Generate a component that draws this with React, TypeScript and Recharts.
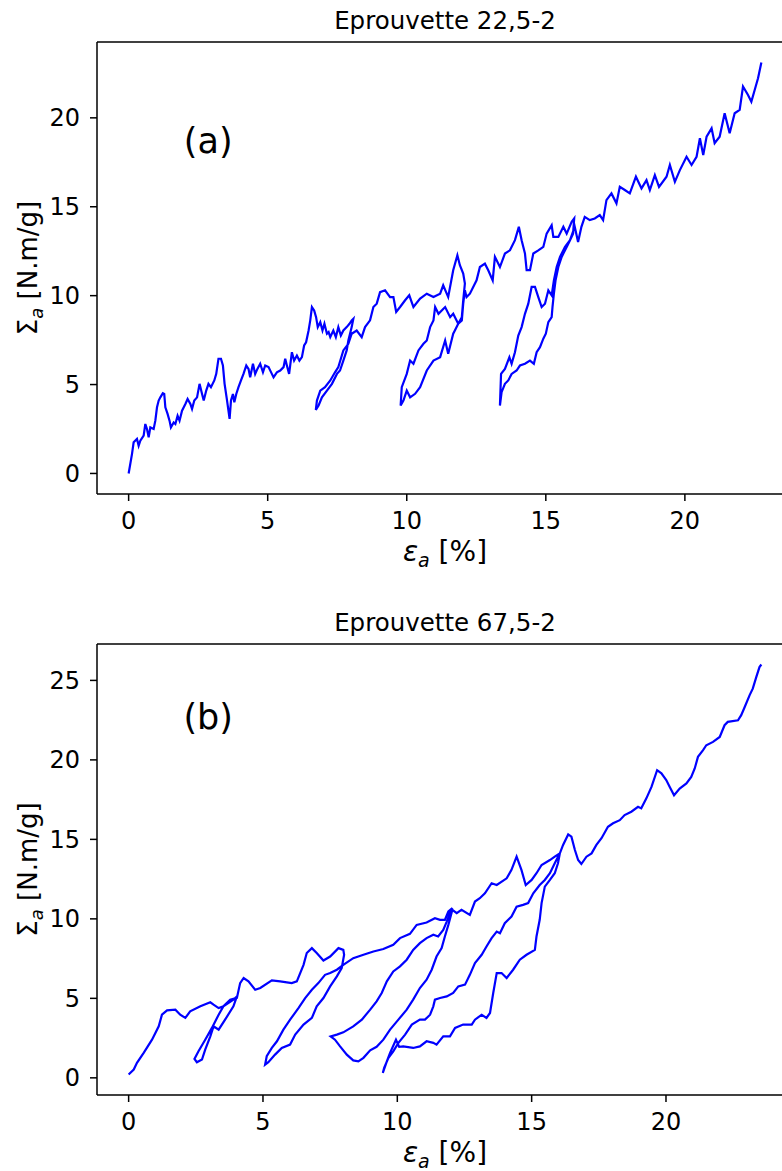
import { LineChart, Line, XAxis, YAxis, ReferenceDot } from 'recharts'

const FONT = '"DejaVu Sans", sans-serif'
const BLUE = '#0000ff'

const titleA = 'Eprouvette 22,5-2'
const titleB = 'Eprouvette 67,5-2'
const tagA = '(a)'
const tagB = '(b)'
const xTicks = [0, 5, 10, 15, 20]
const yTicksA = [0, 5, 10, 15, 20]
const yTicksB = [0, 5, 10, 15, 20, 25]

// specimen 22,5-2 : strain (%) and stress, in the order they were recorded
const strainA = [
  0, 0.12, 0.18, 0.3, 0.36, 0.42, 0.54, 0.6, 0.66, 0.72, 0.78, 0.9, 0.96, 1.02, 1.08, 1.14, 1.23, 1.28, 1.32, 1.4,
  1.47, 1.52, 1.62, 1.68, 1.76, 1.83, 1.92, 2.04, 2.12, 2.22, 2.28, 2.36, 2.46, 2.55, 2.64, 2.7, 2.79, 2.87, 2.96, 3.08,
  3.15, 3.23, 3.32, 3.39, 3.45, 3.53, 3.63, 3.68, 3.75, 3.8, 3.87, 3.95, 4.04, 4.13, 4.23, 4.31, 4.37, 4.47, 4.55, 4.63,
  4.73, 4.83, 4.91, 5.03, 5.15, 5.21, 5.33, 5.45, 5.57, 5.63, 5.69, 5.77, 5.87, 5.95, 6.05, 6.14, 6.23, 6.31, 6.38, 6.47,
  6.53, 6.59, 6.67, 6.74, 6.8, 6.89, 6.97, 7.04, 7.13, 7.19, 7.25, 7.36, 7.45, 7.54, 7.63, 7.72, 7.84, 7.94, 8.02, 8.08,
  8.02, 7.9, 7.84, 7.72, 7.6, 7.49, 7.31, 7.13, 6.95, 6.83, 6.73,
  6.77, 6.89, 7.06, 7.25, 7.42, 7.54, 7.72, 7.9, 8.02, 8.2, 8.38, 8.5, 8.68, 8.8, 8.92, 9.04, 9.22, 9.4, 9.52, 9.62,
  9.76, 9.94, 10.09, 10.24, 10.48, 10.72, 10.96, 11.2, 11.31, 11.49, 11.67, 11.82, 11.91, 12.03, 12.09,
  12.03, 11.98, 11.85, 11.73, 11.67, 11.49, 11.38, 11.2, 10.96, 10.72, 10.48, 10.3, 10.12, 10.0, 9.88, 9.78,
  9.82, 10.0, 10.12, 10.24, 10.42, 10.6, 10.72, 10.84, 10.96, 11.02, 11.14, 11.38, 11.56, 11.67, 11.85, 11.98, 12.03, 12.09,
  12.15, 12.27, 12.39, 12.51, 12.63, 12.81, 12.93, 13.09, 13.17, 13.35, 13.53, 13.71, 13.89, 14.03, 14.13, 14.25, 14.31,
  14.43, 14.55, 14.73, 14.91, 15.03, 15.21, 15.27, 15.45, 15.63, 15.75, 15.93, 16.02,
  15.98, 15.87, 15.75, 15.57, 15.45, 15.35, 15.29, 15.24, 15.21, 15.09, 15.0, 14.91, 14.79, 14.67, 14.57, 14.43, 14.25,
  14.07, 13.95, 13.77, 13.65, 13.53, 13.41, 13.35,
  13.39, 13.53, 13.69, 13.77, 13.89, 14.01, 14.13, 14.25, 14.37, 14.49, 14.61, 14.73, 14.85, 14.97, 15.09, 15.21, 15.29,
  15.39, 15.51, 15.69, 15.87, 16.04,
  16.16, 16.28, 16.4, 16.58, 16.76, 16.94, 17.06, 17.18, 17.36, 17.54, 17.66, 17.84, 18.02, 18.24, 18.44, 18.62, 18.74,
  18.92, 19.07, 19.34, 19.46, 19.64, 19.82, 20.06, 20.24, 20.42, 20.54, 20.66, 20.78, 20.96, 21.07, 21.25, 21.43, 21.61,
  21.79, 21.97, 22.09, 22.27, 22.39, 22.51, 22.63, 22.75,
]
const stressA = [
  0, 1.09, 1.75, 1.94, 1.56, 1.84, 2.13, 2.78, 2.5, 2.03, 2.59, 2.5, 2.97, 3.72, 4.1, 4.28, 4.51, 4.47, 3.72, 3.35,
  2.97, 2.59, 2.87, 2.78, 3.25, 2.97, 3.53, 3.91, 4.19, 3.91, 3.63, 4.1, 4.28, 5.04, 4.47, 4.1, 4.66, 5.04, 4.85, 5.23,
  5.6, 6.45, 6.45, 6.07, 5.04, 4.19, 3.07, 4.1, 4.47, 4.0, 4.47, 4.85, 5.23, 5.6, 6.07, 5.88, 5.41, 6.17, 5.6, 5.88,
  6.17, 5.69, 6.07, 5.98, 5.6, 5.41, 5.69, 5.79, 5.98, 6.45, 6.07, 5.6, 6.82, 6.35, 6.63, 6.35, 6.54, 7.2, 7.38, 8.04,
  8.61, 9.36, 9.17, 8.79, 8.23, 8.51, 8.04, 8.42, 7.86, 7.95, 7.67, 8.04, 7.67, 8.23, 7.76, 8.04, 8.23, 8.42, 8.61, 8.7,
  8.23, 7.48, 6.92, 6.35, 5.79, 5.6, 5.04, 4.66, 4.28, 3.82, 3.57,
  4.1, 4.66, 4.85, 5.23, 5.69, 5.98, 6.92, 7.29, 7.86, 8.04, 7.67, 8.23, 8.61, 9.36, 9.55, 10.2, 10.3, 9.92, 9.92, 9.08,
  9.36, 9.74, 10.02, 9.36, 9.83, 10.11, 9.92, 10.11, 10.58, 9.92, 11.43, 12.27, 11.71, 11.24, 10.68,
  9.74, 8.79, 8.42, 8.04, 7.86, 6.73, 7.48, 6.54, 6.35, 5.79, 4.85, 4.48, 4.28, 4.66, 4.1, 3.82,
  4.85, 5.6, 6.35, 6.17, 6.92, 7.29, 7.48, 8.23, 8.61, 9.36, 8.98, 9.36, 8.79, 8.98, 8.42, 8.61, 9.55, 10.3,
  9.92, 10.11, 10.49, 10.86, 11.61, 11.8, 11.43, 10.86, 12.18, 11.61, 12.37, 12.55, 13.12, 13.87, 13.12, 12.37, 11.43,
  11.43, 12.37, 12.55, 12.74, 13.49, 13.96, 13.3, 13.3, 13.87, 13.49, 14.15, 14.34,
  13.49, 13.12, 12.74, 12.18, 11.61, 10.86, 10.11, 9.36, 8.79, 8.51, 7.86, 7.58, 7.1, 6.82, 6.17, 6.35, 6.17,
  6.07, 5.79, 5.6, 5.23, 5.04, 4.57, 3.82,
  5.6, 5.88, 6.54, 6.17, 6.82, 7.76, 8.23, 8.98, 9.55, 10.49, 10.49, 9.92, 9.36, 9.55, 10.3, 10.02, 10.86,
  11.61, 12.18, 12.74, 13.12, 13.87,
  13.02, 13.87, 14.43, 14.25, 14.34, 14.53, 14.25, 15.37, 15.75, 15.19, 16.12, 15.94, 15.75, 16.69, 16.03, 16.5, 15.94,
  16.78, 16.12, 16.69, 17.35, 16.4, 17.06, 17.81, 17.35, 17.81, 18.85, 17.91, 18.94, 19.41, 18.57, 18.94, 20.26, 19.13,
  20.26, 20.45, 21.76, 21.29, 20.91, 21.57, 22.23, 23.11,
]

// specimen 67,5-2
const strainB = [
  0, 0.19, 0.31, 0.56, 0.87, 1.12, 1.24, 1.43, 1.74, 1.92, 2.11, 2.29, 2.67, 3.04, 3.16, 3.35, 3.53, 3.9, 4.03,
  3.9, 3.59, 3.35, 3.16, 3.04, 2.85, 2.73, 2.54, 2.45,
  2.6, 2.85, 3.1, 3.35, 3.53, 3.78, 4.03,
  4.15, 4.28, 4.46, 4.71, 4.9, 5.33, 5.64, 6.07, 6.26, 6.51, 6.63, 6.82, 7.0, 7.25, 7.5, 7.81, 7.99, 8.02,
  7.93, 7.75, 7.5, 7.25, 7.0, 6.82, 6.51, 6.2, 6.01, 5.7, 5.45, 5.2, 5.08,
  5.14, 5.33, 5.52, 5.76, 6.01, 6.32, 6.57, 6.82, 7.06, 7.31, 7.5, 7.75, 7.99,
  8.36, 8.74, 9.11, 9.48, 9.85, 10.1, 10.47, 10.72, 11.09, 11.4, 11.59, 11.77, 11.9, 12.05,
  11.96, 11.84, 11.71, 11.52, 11.34, 11.09, 10.84, 10.59, 10.35, 10.1, 9.85, 9.61, 9.42, 9.23, 8.99, 8.68, 8.36, 7.99,
  7.75, 7.52,
  7.68, 7.87, 8.12, 8.36, 8.55, 8.74, 8.99, 9.23, 9.48, 9.73, 10.04, 10.35, 10.59, 10.84, 11.09, 11.28, 11.46, 11.65,
  11.77, 11.9, 12.05,
  12.21, 12.39, 12.7, 12.89, 13.07, 13.26, 13.51, 13.7, 14.07, 14.25, 14.44, 14.62, 14.78, 15.0, 15.18, 15.37, 15.68,
  15.86, 16.05,
  15.98, 15.86, 15.68, 15.49, 15.37, 15.3, 15.18, 15.12, 14.81, 14.56, 14.31, 14.07, 13.88, 13.7, 13.57, 13.45, 13.32,
  13.14, 12.89, 12.77, 12.45, 12.15, 11.96, 11.71, 11.46, 11.34, 11.09, 10.84, 10.59, 10.22, 10.07, 9.95, 9.73, 9.61, 9.46,
  9.51, 9.67, 9.85, 10.04, 10.29, 10.54, 10.84, 11.03, 11.22, 11.34, 11.4, 11.59, 11.84, 12.08, 12.27, 12.52, 12.7,
  12.89, 13.14, 13.32, 13.51, 13.7, 13.82, 14.0, 14.25, 14.44, 14.68, 14.87, 15.06, 15.3, 15.49, 15.68, 15.86, 16.05,
  16.17, 16.36, 16.48, 16.61, 16.73, 16.85, 17.04, 17.23, 17.41, 17.6, 17.84, 18.03, 18.28, 18.46, 18.71, 18.96, 19.08,
  19.27, 19.46, 19.67, 19.83, 20.01, 20.14, 20.3, 20.51, 20.76, 20.94, 21.07, 21.19, 21.38, 21.5, 21.75, 22.0, 22.18,
  22.3, 22.68, 22.8, 22.93, 23.11, 23.23, 23.36, 23.48, 23.55,
]
const stressB = [
  0.21, 0.52, 0.94, 1.57, 2.4, 3.24, 3.97, 4.24, 4.29, 3.97, 3.77, 4.18, 4.5, 4.75, 4.6, 4.39, 4.5, 4.92, 5.12,
  4.5, 3.66, 3.03, 3.24, 2.61, 1.78, 1.15, 0.98, 1.19,
  1.67, 2.4, 3.14, 3.97, 4.5, 4.92, 5.03,
  5.96, 6.28, 6.07, 5.54, 5.65, 6.13, 6.07, 5.96, 6.07, 7.11, 7.85, 8.16, 7.85, 7.38, 7.63, 8.16, 8.05, 7.74,
  6.9, 6.38, 5.75, 5.02, 4.5, 3.77, 3.35, 2.72, 2.09, 1.88, 1.46, 0.98, 0.83,
  1.36, 1.88, 2.3, 3.03, 3.66, 4.39, 5.02, 5.54, 5.96, 6.48, 6.59, 6.8, 7.11,
  7.53, 7.74, 7.95, 8.1, 8.37, 8.79, 9.06, 9.62, 9.77, 10.04, 9.94, 9.94, 10.46, 10.67,
  10.36, 9.83, 9.31, 8.89, 9.0, 8.79, 8.47, 8.05, 7.43, 7.01, 6.69, 6.07, 5.34, 4.81, 4.29, 3.66, 3.24, 2.86,
  2.72, 2.61,
  2.4, 1.98, 1.46, 1.1, 1.04, 1.26, 1.73, 1.95, 2.4, 3.03, 3.66, 4.29, 4.92, 5.65, 6.17, 6.8, 7.63, 8.16,
  8.89, 9.62, 10.57,
  10.36, 10.57, 10.25, 11.09, 11.3, 11.61, 12.24, 12.13, 12.55, 13.08, 13.91, 13.08, 12.13, 12.45, 12.87, 13.39, 13.7,
  13.91, 14.12,
  13.5, 12.87, 12.45, 12.03, 10.99, 9.94, 8.89, 8.05, 7.74, 7.43, 6.8, 6.28, 6.59, 6.59, 5.34, 4.08, 3.77,
  3.97, 3.66, 3.35, 3.35, 3.14, 2.61, 2.61, 2.09, 2.2, 2.3, 1.98, 1.88, 1.98, 1.95, 2.4, 1.57, 1.04, 0.31,
  0.63, 1.26, 1.67, 2.2, 2.72, 3.35, 3.66, 3.66, 3.97, 4.5, 4.92, 5.02, 5.12, 5.34, 5.75, 5.86, 6.48,
  7.22, 7.74, 8.26, 8.79, 9.2, 9.1, 9.73, 10.15, 10.77, 10.88, 10.99, 11.61, 12.13, 12.45, 12.87, 13.5, 14.12,
  14.65, 15.31, 15.17, 14.33, 13.7, 13.45, 13.91, 14.12, 14.65, 15.07, 15.79, 16.01, 16.21, 16.53, 16.74, 17.05, 16.95,
  17.58, 18.3, 19.35, 19.15, 18.73, 18.3, 17.78, 18.2, 18.52, 18.93, 19.46, 20.19, 20.61, 20.92, 21.13, 21.44, 22.18,
  22.39, 22.49, 22.81, 23.33, 24.06, 24.48, 25.21, 25.84, 26.0,
]

// where the panel tags sit, in data units
const tagAtA: [number, number] = [2.86, 18.72]
const tagAtB: [number, number] = [2.96, 22.75]

const toRows = (xs: number[], ys: number[]) => xs.map((x, i) => ({ x, y: ys[i] }))

// matplotlib-style 5% margins
function padded(vals: number[]): [number, number] {
  const lo = Math.min(...vals)
  const hi = Math.max(...vals)
  const m = (hi - lo) * 0.05
  return [lo - m, hi + m]
}

const tickStyle = { fill: '#000', fontSize: 24, fontFamily: FONT }
const spine = { stroke: '#000', strokeWidth: 1.5 }

function XTitle({ viewBox }: any) {
  const { x, y, width } = viewBox
  return (
    <text x={x + width / 2} y={y + 67} textAnchor="middle" fontFamily={FONT} fontSize={28} fill="#000">
      <tspan fontStyle="italic">ε</tspan>
      <tspan fontStyle="italic" fontSize={19} dy={6}>a</tspan>
      <tspan dy={-6}> [%]</tspan>
    </text>
  )
}

function YTitle({ viewBox }: any) {
  const { y, height } = viewBox
  const cy = y + height / 2
  return (
    <text x={37} y={cy} transform={`rotate(-90, 37, ${cy})`} textAnchor="middle" fontFamily={FONT} fontSize={26} fill="#000">
      <tspan>Σ</tspan>
      <tspan fontStyle="italic" fontSize={18} dy={6}>a</tspan>
      <tspan dy={-6}> [N.m/g]</tspan>
    </text>
  )
}

function PanelTitle({ viewBox, text }: any) {
  const { x, y, width, height } = viewBox
  return (
    <text x={x + width / 2} y={y + height - 13} textAnchor="middle" fontFamily={FONT} fontSize={24.5} fill="#000">
      {text}
    </text>
  )
}

interface PanelProps {
  title: string
  tag: string
  tagAt: [number, number]
  xs: number[]
  ys: number[]
  yTicks: number[]
  height: number
  top: number
  bottom: number
}

function Panel({ title, tag, tagAt, xs, ys, yTicks, height, top, bottom }: PanelProps) {
  const data = toRows(xs, ys)
  const xDom = padded(xs)
  const yDom = padded(ys)
  return (
    <LineChart width={800} height={height} data={data} margin={{ top, right: 7, bottom, left: 0 }}>
      <XAxis
        type="number"
        dataKey="x"
        domain={xDom}
        ticks={xTicks}
        allowDataOverflow
        height={60}
        stroke="#000"
        fontSize={24}
        tickSize={7}
        tickMargin={11}
        tick={tickStyle}
        tickLine={spine}
        axisLine={spine}
        label={<XTitle />}
      />
      <XAxis
        xAxisId="top"
        orientation="top"
        type="number"
        dataKey="x"
        domain={xDom}
        allowDataOverflow
        height={30}
        stroke="#000"
        tick={false}
        tickLine={false}
        axisLine={spine}
        label={<PanelTitle text={title} />}
      />
      <YAxis
        type="number"
        domain={yDom}
        ticks={yTicks}
        allowDataOverflow
        width={97}
        stroke="#000"
        fontSize={24}
        tickSize={7}
        tickMargin={10}
        tick={tickStyle}
        tickLine={spine}
        axisLine={spine}
        label={<YTitle />}
      />
      <ReferenceDot
        x={tagAt[0]}
        y={tagAt[1]}
        r={0}
        fill="none"
        stroke="none"
        label={{ value: tag, position: 'center', fontSize: 35, fill: '#000', fontFamily: FONT }}
      />
      <Line type="linear" dataKey="y" stroke={BLUE} strokeWidth={2.2} dot={false} isAnimationActive={false} />
    </LineChart>
  )
}

export default function App() {
  return (
    <div style={{ position: 'absolute', left: 0, top: 0, width: 782, height: 1171, overflow: 'hidden', background: '#fff' }}>
      <div style={{ position: 'absolute', left: 0, top: 0 }}>
        <Panel title={titleA} tag={tagA} tagAt={tagAtA} xs={strainA} ys={stressA} yTicks={yTicksA} height={580} top={12} bottom={26} />
      </div>
      <div style={{ position: 'absolute', left: 0, top: 600 }}>
        <Panel title={titleB} tag={tagB} tagAt={tagAtB} xs={strainB} ys={stressB} yTicks={yTicksB} height={571} top={14} bottom={16} />
      </div>
    </div>
  )
}
